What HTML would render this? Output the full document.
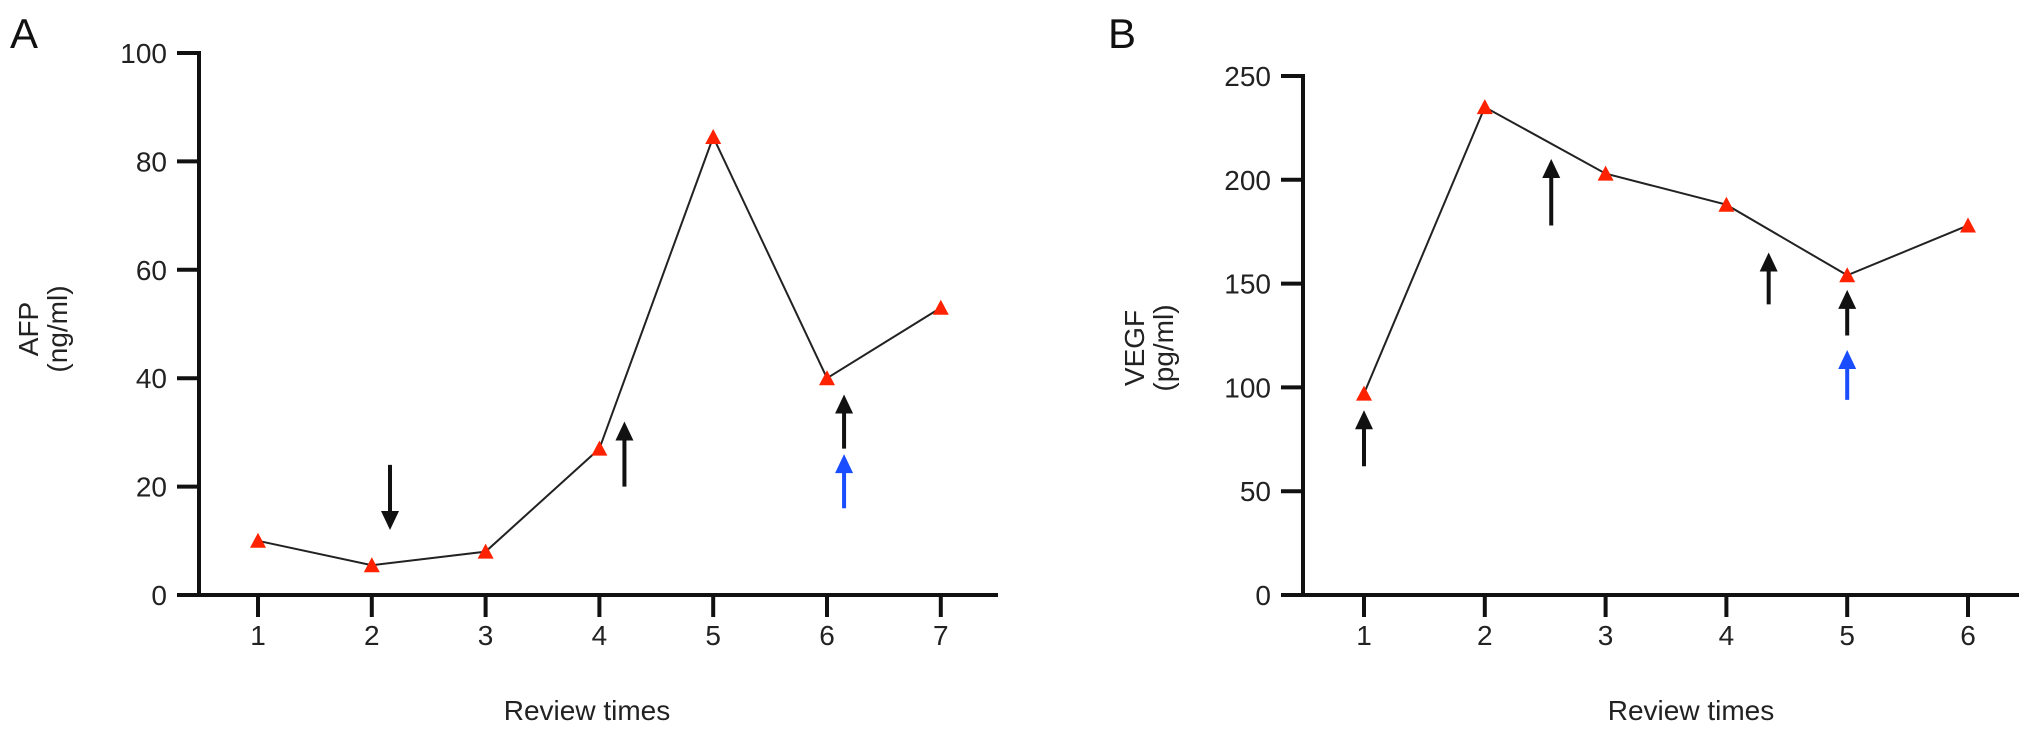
<!DOCTYPE html>
<html><head><meta charset="utf-8"><style>
body{margin:0;background:#fff;}
svg{display:block;font-family:"Liberation Sans",Arial,sans-serif;}
</style></head><body>
<svg id="c" width="2032" height="734" viewBox="0 0 2032 734">
</svg>
<script>
const catsA=[1,2,3,4,5,6,7];
const valsA=[10,5.5,8,27,84.5,40,53];
const ticksA=[0,20,40,60,80,100];
const catsB=[1,2,3,4,5,6];
const valsB=[97,235,203,188,154,178];
const ticksB=[0,50,100,150,200,250];
// arrows: [x category, tail value, head value, color]
const arrowsA=[[2.16,24,12,'k'],[4.22,20,32,'k'],[6.15,27,37,'k'],[6.15,16,26,'b']];
const arrowsB=[[1,62,89,'k'],[2.55,178,210,'k'],[4.35,140,165,'k'],[5,125,147,'k'],[5,94,118,'b']];

const NS='http://www.w3.org/2000/svg';
const svg=document.getElementById('c');
function mk(t,a,p){const e=document.createElementNS(NS,t);for(const k in a)e.setAttribute(k,a[k]);(p||svg).appendChild(e);return e;}

function panel(o){
  const g=mk('g',{});
  
  
  const xs=c=>o.x1+(c-o.cats[0])*o.step;
  const ys=v=>o.y0-(v/o.ymax)*(o.y0-o.ytop);
  const lab=mk('text',{x:o.lx,y:48,'font-size':42,fill:'#111'},g);lab.textContent=o.letter;
  
  const ya=mk('line',{x1:o.ax,y1:ys(o.ymax)-2,x2:o.ax,y2:o.y0+2,stroke:'#111','stroke-width':4},g);
  
  const xa=mk('line',{x1:o.ax-2,y1:o.y0,x2:o.xend,y2:o.y0,stroke:'#111','stroke-width':4},g);
  
  o.ticks.forEach(t=>{
    const y=ys(t);
    mk('line',{x1:o.ax-22,y1:y,x2:o.ax,y2:y,stroke:'#111','stroke-width':4},g);
    const tx=mk('text',{x:o.ax-32,y:y+10,'font-size':28,'text-anchor':'end',fill:'#222'},g);
    tx.textContent=t;
    
  });
  o.cats.forEach(c=>{
    const x=xs(c);
    mk('line',{x1:x,y1:o.y0,x2:x,y2:o.y0+22,stroke:'#111','stroke-width':4},g);
    const tx=mk('text',{x:x,y:645,'font-size':28,'text-anchor':'middle',fill:'#222'},g);
    tx.textContent=c;
    
  });
  const xt=mk('text',{x:o.xtx,y:720,'font-size':28,'text-anchor':'middle',fill:'#222'},g);
  xt.textContent='Review times';
  
  const yt=mk('text',{transform:`translate(${o.ytx},${o.yty}) rotate(-90)`,'font-size':28,'text-anchor':'middle',fill:'#222'},g);
  
  const t1=mk('tspan',{x:0,y:0},yt);t1.textContent=o.ytitle;
  const t2=mk('tspan',{x:0,y:29},yt);t2.textContent=o.yunit;
  const pts=o.cats.map((c,i)=>xs(c)+','+ys(o.vals[i])).join(' ');
  const pl=mk('polyline',{points:pts,fill:'none',stroke:'#222','stroke-width':2},g);
  
  o.cats.forEach((c,i)=>{
    const x=xs(c),y=ys(o.vals[i]);
    const p=mk('polygon',{points:`${x-8},${y+7} ${x+8},${y+7} ${x},${y-8}`,fill:'#ff2200'},g);
    
  });
  o.arrows.forEach(a=>{
    const x=xs(a[0]);
    const col=a[3]=='b'?'#1a4dff':'#111';
    const yt0=ys(a[1]),yh=ys(a[2]);
    const dir=yh<yt0?1:-1; // 1 = pointing up
    const ag=mk('g',{},g);
    
    mk('line',{x1:x,y1:yt0,x2:x,y2:yh+dir*12,stroke:col,'stroke-width':4},ag);
    mk('polygon',{points:`${x-9},${yh+dir*19} ${x+9},${yh+dir*19} ${x},${yh}`,fill:col},ag);
  });
}
panel({id:'afp',letter:'A',lx:10,ax:199,xend:998,x1:258,step:113.8,y0:595,ytop:53,ymax:100,cats:catsA,vals:valsA,ticks:ticksA,arrows:arrowsA,xtx:587,ytx:38,yty:329,ytitle:'AFP',yunit:'(ng/ml)'});
panel({id:'vegf',letter:'B',lx:1108,ax:1303,xend:2019,x1:1364,step:120.8,y0:595,ytop:76,ymax:250,cats:catsB,vals:valsB,ticks:ticksB,arrows:arrowsB,xtx:1691,ytx:1144,yty:348,ytitle:'VEGF',yunit:'(pg/ml)'});
</script>
</body></html>
